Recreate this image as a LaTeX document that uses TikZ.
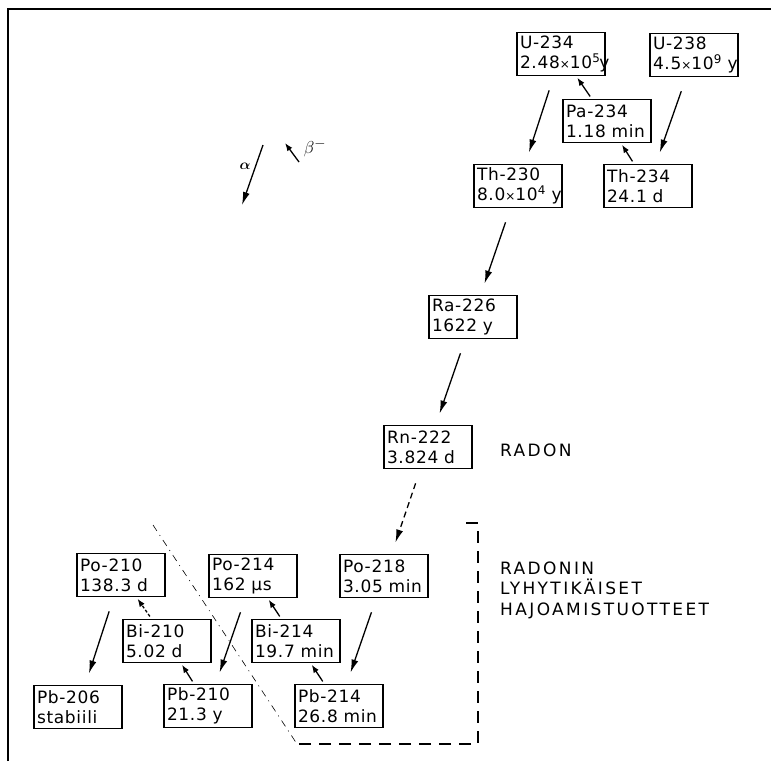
\documentclass[tikz,border=0pt]{standalone}
\usepackage{fontspec}
\setmainfont{DejaVu Sans}
\newfontfamily\boxfont[LetterSpace=4]{DejaVu Sans}
\newfontfamily\labelfont[LetterSpace=14]{DejaVu Sans}
\usetikzlibrary{arrows.meta,positioning}
\newcommand{\ten}[1]{{\fontsize{12}{20}\selectfont×}10\textsuperscript{#1}}
\tikzset{
  nuclide/.style={draw, line width=1.2pt, align=left, text width=82pt, minimum height=43pt,
    inner xsep=3pt, inner ysep=1pt, font=\boxfont\fontsize{17}{20}\selectfont},
  alphadecay/.style={-{Latex[length=13pt,width=7pt]}, line width=1.3pt, shorten <=15pt, shorten >=12pt},
  betadecay/.style={-{Latex[length=8pt,width=6pt]}, line width=1.3pt, shorten <=3pt, shorten >=2pt},
  caption/.style={anchor=west, font=\labelfont\fontsize{17}{20.5}\selectfont, align=left, inner sep=0pt},
}

\begin{document}
\begin{tikzpicture}[x=1pt, y=-1pt]
  \useasboundingbox (0,0) rectangle (771,761);
  \draw[line width=1.4pt] (8,761) -- (8,9) -- (771,9);
  % uranium series
  \node[nuclide] (u234) at (561,54) {U-234\\\mbox{2.48\ten{5}\kern-1pt y}};
  \node[nuclide] (u238) at (694,55) {U-238\\\mbox{4.5\ten{9} y}};
  \node[nuclide] (pa234) at (607,121) {Pa-234\\1.18 min};
  \node[nuclide] (th234) at (648,186) {Th-234\\24.1 d};
  \node[nuclide] (th230) at (518,186) {Th-230\\\mbox{8.0\ten{4} y}};
  \node[nuclide] (ra226) at (473,317) {Ra-226\\1622 y};
  \node[nuclide] (rn222) at (428,447) {Rn-222\\3.824 d};
  % short-lived daughters
  \node[nuclide] (po218) at (384,576) {Po-218\\3.05 min};
  \node[nuclide] (po214) at (253,576) {Po-214\\162 µs};
  \node[nuclide] (po210) at (121,575) {Po-210\\138.3 d};
  \node[nuclide] (bi214) at (296,641) {Bi-214\\19.7 min};
  \node[nuclide] (bi210) at (167,641) {Bi-210\\5.02 d};
  \node[nuclide] (pb214) at (339,706) {Pb-214\\26.8 min};
  \node[nuclide] (pb210) at (208,706) {Pb-210\\21.3 y};
  \node[nuclide] (pb206) at (78,707) {Pb-206\\stabiili};
  % decays
  \draw[betadecay] (pa234) -- (u234);
  \draw[betadecay] (th234) -- (pa234);
  \draw[alphadecay] (u238) -- (th234);
  \draw[alphadecay] (u234) -- (th230);
  \draw[alphadecay] (th230) -- (ra226);
  \draw[alphadecay] (ra226) -- (rn222);
  \draw[alphadecay, dash pattern=on 6pt off 4pt] (rn222) -- (po218);
  \draw[alphadecay] (po218) -- (pb214);
  \draw[betadecay] (pb214) -- (bi214);
  \draw[betadecay] (bi214) -- (po214);
  \draw[alphadecay] (po214) -- (pb210);
  \draw[betadecay] (pb210) -- (bi210);
  \draw[betadecay, densely dashed] (bi210) -- (po210);
  \draw[alphadecay] (po210) -- (pb206);
  % legend
  \coordinate (alphafrom) at (263,145);
  \coordinate (alphato) at (242,205);
  \coordinate (betafrom) at (299,162);
  \coordinate (betato) at (285,143);
  \draw[alphadecay, shorten <=0pt, shorten >=0pt] (alphafrom) -- (alphato);
  \draw[betadecay, shorten <=0pt, shorten >=0pt] (betafrom) -- (betato);
  \node[font=\fontsize{15}{17}\selectfont\boldmath] (alphalabel) at (245,166) {$\alpha$};
  \node[font=\fontsize{19}{21}\selectfont] (betalabel) at (315,148) {$\beta^-$};
  % texts
  \node[caption] (radon) at (500,450) {RADON};
  \node[caption] (daughters) at (500,590) {RADONIN\\LYHYTIKÄISET\\HAJOAMISTUOTTEET};
  % the short-lived group
  \draw[line width=1.1pt, dash pattern=on 12pt off 8pt] (466,523) -- (478,523) -- (478,744) -- (297,744);
  \draw[line width=0.6pt, dash pattern=on 7pt off 5pt on 1pt off 5pt] (153,525) -- (297,744);
\end{tikzpicture}
\end{document}
